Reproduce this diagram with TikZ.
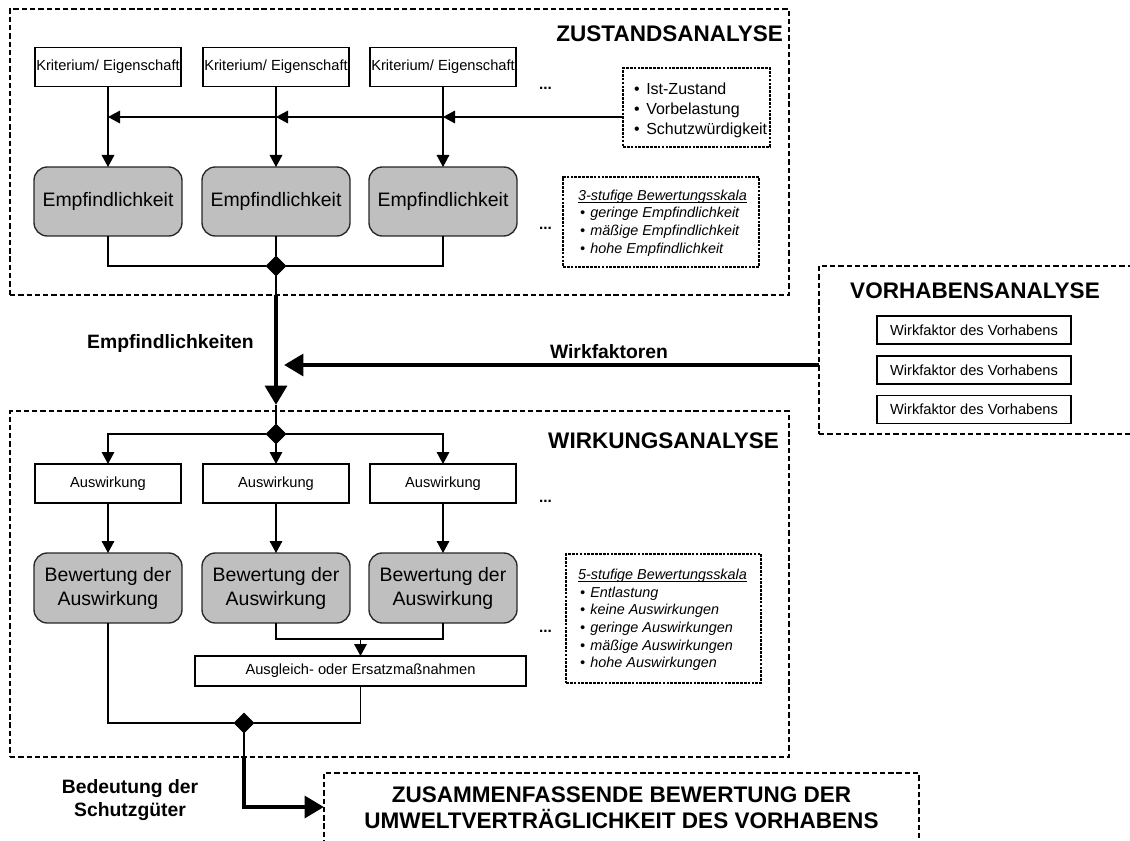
\documentclass[tikz,border=0pt]{standalone}
\usepackage{fontspec}
\setmainfont{Liberation Sans}
\usetikzlibrary{arrows.meta,shapes.geometric,calc}
\newdimen\pxu \pxu=0.75pt
\newcommand{\myul}[1]{\setbox0\hbox{#1}\rlap{\rule[-1.4pt]{\wd0}{0.5pt}}\box0}
\begin{document}
\begin{tikzpicture}[x=0.75pt,y=-0.75pt,
  every node/.style={inner sep=0pt, outer sep=0pt},
  bigframe/.style={draw, line width=1.2pt, dash pattern=on 4pt off 2.2pt},
  smallframe/.style={draw, line width=1.1pt, dash pattern=on 2pt off 0.9pt},
  plainbox/.style={draw, line width=0.8pt, fill=white, font=\fontsize{11}{13}\selectfont, minimum width=146\pxu, minimum height=39\pxu},
  graybox/.style={draw=black!85, line width=1pt, fill=black!25, rounded corners=10pt, minimum width=148\pxu, align=center, font=\fontsize{14.6}{18}\selectfont},
  dia/.style={diamond, draw, fill=black, minimum width=20\pxu, minimum height=20\pxu},
  titletext/.style={font=\bfseries\fontsize{16.9}{19.5}\selectfont},
  lbl/.style={font=\bfseries\fontsize{14.5}{17.25}\selectfont},
  dotstext/.style={font=\bfseries\fontsize{11.5}{13}\selectfont},
  listtext/.style={align=left, font=\fontsize{12}{15}\selectfont},
  scaletext/.style={align=left, font=\itshape\fontsize{10.8}{13.2}\selectfont},
  conn/.style={line width=0.8pt},
  arr/.style={line width=0.8pt, -{Triangle[length=9pt,width=9.5pt]}},
  bigarr/.style={line width=3.6pt, -{Triangle[length=14.5pt,width=16pt]}}
]
\useasboundingbox (0,0) rectangle (1130,841);
\clip (0,0) rectangle (1130,841);

% frames
\node[bigframe, minimum width=779\pxu, minimum height=286\pxu] (zust) at (399.5,152) {};
\node[bigframe, minimum width=779\pxu, minimum height=346\pxu] (wirk) at (399.5,584) {};
\node[bigframe, minimum width=321\pxu, minimum height=168\pxu] (vorh) at (979.5,350) {};
\node[bigframe, minimum width=595\pxu, minimum height=107\pxu] (zus) at (621.5,826.5) {};

% titles
\node[titletext, anchor=base east] (tZ) at (783,41.5) {ZUSTANDSANALYSE};
\node[titletext, anchor=base east] (tW) at (779,448) {WIRKUNGSANALYSE};
\node[titletext, anchor=base] (tV) at (975,299) {VORHABENSANALYSE};
\node[titletext, align=center] (tZus) at (621.5,808) {ZUSAMMENFASSENDE BEWERTUNG DER\\UMWELTVERTRÄGLICHKEIT DES VORHABENS};

% labels
\node[lbl, anchor=base] (lE) at (170.5,348) {Empfindlichkeiten};
\node[lbl, anchor=base] (lW) at (609,358) {Wirkfaktoren};
\node[lbl, align=center] (lB) at (130,800) {Bedeutung der\\Schutzgüter};

% Zustandsanalyse
\node[plainbox] (k1) at (108,67) {Kriterium/ Eigenschaft};
\node[plainbox] (k2) at (276,67) {Kriterium/ Eigenschaft};
\node[plainbox] (k3) at (443,67) {Kriterium/ Eigenschaft};
\node[graybox, minimum height=69\pxu] (e1) at (108,201.5) {Empfindlichkeit};
\node[graybox, minimum height=69\pxu] (e2) at (276,201.5) {Empfindlichkeit};
\node[graybox, minimum height=69\pxu] (e3) at (443,201.5) {Empfindlichkeit};
\node[dotstext, anchor=base] (dz1) at (545.5,90) {...};
\node[dotstext, anchor=base] (dz2) at (545.5,230) {...};

\node[smallframe, minimum width=147\pxu, minimum height=79\pxu] (ist) at (696.5,107.5) {};
\node[listtext, anchor=west] (istT) at (634,110) {•\hspace{5pt}Ist-Zustand\\•\hspace{5pt}Vorbelastung\\•\hspace{5pt}Schutzwürdigkeit};

\node[smallframe, minimum width=196\pxu, minimum height=90\pxu] (s3) at (661,222) {};
\node[scaletext, anchor=west] (s3T) at (578,223) {\myul{3-stufige Bewertungsskala}\\\hspace{1.5pt}•\hspace{4pt}geringe Empfindlichkeit\\\hspace{1.5pt}•\hspace{4pt}mäßige Empfindlichkeit\\\hspace{1.5pt}•\hspace{4pt}hohe Empfindlichkeit};

\node[dia] (d1) at (276,266) {};

% Vorhabensanalyse
\node[plainbox, minimum width=194\pxu, minimum height=28\pxu] (wf1) at (974,330) {Wirkfaktor des Vorhabens};
\node[plainbox, minimum width=194\pxu, minimum height=28\pxu] (wf2) at (974,370) {Wirkfaktor des Vorhabens};
\node[plainbox, minimum width=194\pxu, minimum height=28\pxu] (wf3) at (974,409.5) {Wirkfaktor des Vorhabens};

% Wirkungsanalyse
\node[dia] (d2) at (276,434) {};
\node[plainbox] (a1) at (108,483.5) {Auswirkung};
\node[plainbox] (a2) at (276,483.5) {Auswirkung};
\node[plainbox] (a3) at (443,483.5) {Auswirkung};
\node[graybox, minimum height=70\pxu] (b1) at (108,588) {Bewertung der\\Auswirkung};
\node[graybox, minimum height=70\pxu] (b2) at (276,588) {Bewertung der\\Auswirkung};
\node[graybox, minimum height=70\pxu] (b3) at (443,588) {Bewertung der\\Auswirkung};
\node[plainbox, minimum width=331\pxu, minimum height=30\pxu] (ausg) at (360.5,671) {Ausgleich- oder Ersatzmaßnahmen};
\node[dia] (d3) at (244,723) {};
\node[dotstext, anchor=base] (dw1) at (545.5,502) {...};
\node[dotstext, anchor=base] (dw2) at (545.5,632) {...};

\node[smallframe, minimum width=195\pxu, minimum height=129\pxu] (s5) at (663.5,618.5) {};
\node[scaletext, anchor=west] (s5T) at (578,620) {\myul{5-stufige Bewertungsskala}\\\hspace{1.5pt}•\hspace{4pt}Entlastung\\\hspace{1.5pt}•\hspace{4pt}keine Auswirkungen\\\hspace{1.5pt}•\hspace{4pt}geringe Auswirkungen\\\hspace{1.5pt}•\hspace{4pt}mäßige Auswirkungen\\\hspace{1.5pt}•\hspace{4pt}hohe Auswirkungen};

% helper coordinates
\coordinate (y117) at (0,117);
\coordinate (y365) at (0,365);
\coordinate (y639) at (0,639);
\coordinate (y807) at (0,807);
\coordinate (istin) at (ist.west |- y117);
\coordinate (j1) at (k1.south |- y117);
\coordinate (j2) at (k2.south |- y117);
\coordinate (j3) at (k3.south |- y117);
\coordinate (zb) at (d1.south |- zust.south);
\coordinate (tipA) at (276,405);
\coordinate (vin) at (vorh.west |- y365);
\coordinate (tipW) at (284,365);
\coordinate (m5) at (ausg.north |- y639);
\coordinate (wb) at (d3.south |- wirk.south);
\coordinate (zin) at (zus.west |- y807);

% connectors Zustand
\draw[arr] (istin) -- (j3);
\draw[arr] (j3) -- (j2);
\draw[arr] (j2) -- (j1);
\draw[arr] (k1.south) -- (e1.north);
\draw[arr] (k2.south) -- (e2.north);
\draw[arr] (k3.south) -- (e3.north);
\draw[conn] (e1.south) |- (d1.west);
\draw[conn] (e3.south) |- (d1.east);
\draw[conn] (e2.south) -- (d1.north);
\draw[conn] (d1.south) -- (zb);
\draw[bigarr] (zb) -- (tipA);
\draw[conn] (tipA) -- (d2.north);
\draw[bigarr] (vin) -- (tipW);

% connectors Wirkung
\draw[arr] (d2.west) -| (a1.north);
\draw[arr] (d2.east) -| (a3.north);
\draw[arr] (d2.south) -- (a2.north);
\draw[arr] (a1.south) -- (b1.north);
\draw[arr] (a2.south) -- (b2.north);
\draw[arr] (a3.south) -- (b3.north);
\draw[conn] (b2.south) |- (m5) -| (b3.south);
\draw[arr] (m5) -- (ausg.north);
\draw[conn] (b1.south) |- (d3.west);
\draw[conn] (ausg.south) |- (d3.east);
\draw[conn] (d3.south) -- (wb);
\draw[bigarr] (wb) |- (zin);
\end{tikzpicture}
\end{document}
